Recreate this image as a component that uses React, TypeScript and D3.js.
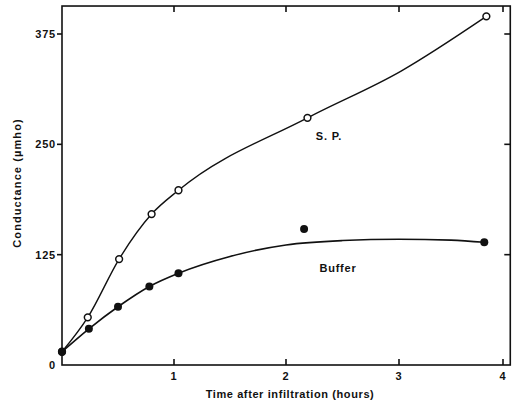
import React from 'react';
import * as d3 from 'd3';

// time (hours) and conductance (µmho)
const spTime = [0, 0.23, 0.51, 0.8, 1.04, 2.19, 3.84];
const spValue = [15, 54, 120, 171, 198, 280, 395];

const bufTime = [0, 0.24, 0.5, 0.78, 1.04, 2.16, 3.82];
const bufValue = [15, 41, 66, 89, 104, 154, 139];

// hand-drawn curves
const spFitTime = [0, 0.23, 0.51, 0.8, 1.04, 2.19, 3.02, 3.84];
const spFitValue = [15, 54, 120, 171, 198, 280, 333, 395];

const bufFitTime = [0, 0.24, 0.5, 0.78, 1.04, 1.5, 2.0, 2.5, 3.0, 3.5, 3.82];
const bufFitValue = [15, 41, 66, 89, 104, 123, 136, 141, 142.5, 141.5, 139];

const xTicks = [1, 2, 3, 4];
const yTicks = [125, 250, 375];
const yLabels = [0, 125, 250, 375];

const font = "'Liberation Sans', Arial, sans-serif";

export default function App() {
  const x = d3.scaleLinear().domain([0, 1, 2, 3, 4]).range([62, 174, 286, 399, 503]);
  const y = d3.scaleLinear().domain([0, 375]).range([365, 34]);
  const xMax = 4.07;
  const yMax = 406.7;

  const zip = (a: number[], b: number[]) => a.map((t, i) => [t, b[i]] as [number, number]);
  const sp = zip(spTime, spValue);
  const buf = zip(bufTime, bufValue);
  const spFit = zip(spFitTime, spFitValue);
  const bufFit = zip(bufFitTime, bufFitValue);

  const line = d3.line<[number, number]>()
    .x(d => x(d[0]))
    .y(d => y(d[1]))
    .curve(d3.curveMonotoneX);

  const x0 = x(0), x1 = x(xMax), y0 = y(0), y1 = y(yMax);
  const tk = 6;

  return (
    <svg width={520} height={405} style={{ position: 'absolute', left: 0, top: 0, background: '#fff' }}>
      <g fill="none" stroke="#111" strokeWidth={1.6}>
        <rect x={x0} y={y1} width={x1 - x0} height={y0 - y1} />
        {xTicks.map(t => <line key={'b' + t} x1={x(t)} x2={x(t)} y1={y0} y2={y0 - tk} />)}
        {xTicks.map(t => <line key={'t' + t} x1={x(t)} x2={x(t)} y1={y1} y2={y1 + tk} />)}
        {yTicks.map(t => <line key={'l' + t} x1={x0} x2={x0 - 5} y1={y(t)} y2={y(t)} />)}
        {yTicks.map(t => <line key={'r' + t} x1={x1} x2={x1 - tk} y1={y(t)} y2={y(t)} />)}
      </g>

      <path d={line(spFit) || ''} fill="none" stroke="#111" strokeWidth={1.4} />
      <path d={line(bufFit) || ''} fill="none" stroke="#111" strokeWidth={1.6} />

      {sp.map((d, i) => (
        <circle key={'sp' + i} cx={x(d[0])} cy={y(d[1])} r={3.4} fill="#fff" stroke="#111" strokeWidth={1.5} />
      ))}
      {buf.map((d, i) => (
        <circle key={'bf' + i} cx={x(d[0])} cy={y(d[1])} r={4} fill="#111" />
      ))}

      <g fontFamily={font} fontWeight="bold" fontSize={11} fill="#111" letterSpacing={0.8}>
        {yLabels.map(t => (
          <text key={'yl' + t} x={56} y={y(t) + 4} textAnchor="end">{t}</text>
        ))}
        {xTicks.map(t => (
          <text key={'xl' + t} x={x(t)} y={y0 + 15} textAnchor="middle">{t}</text>
        ))}
        <text x={329} y={140} textAnchor="middle">S. P.</text>
        <text x={338} y={272} textAnchor="middle">Buffer</text>
        <text x={290} y={398} textAnchor="middle" letterSpacing={0.6}>Time after infiltration (hours)</text>
        <text transform={`translate(21,183) rotate(-90)`} textAnchor="middle" letterSpacing={1.1}>Conductance (µmho)</text>
      </g>
    </svg>
  );
}
